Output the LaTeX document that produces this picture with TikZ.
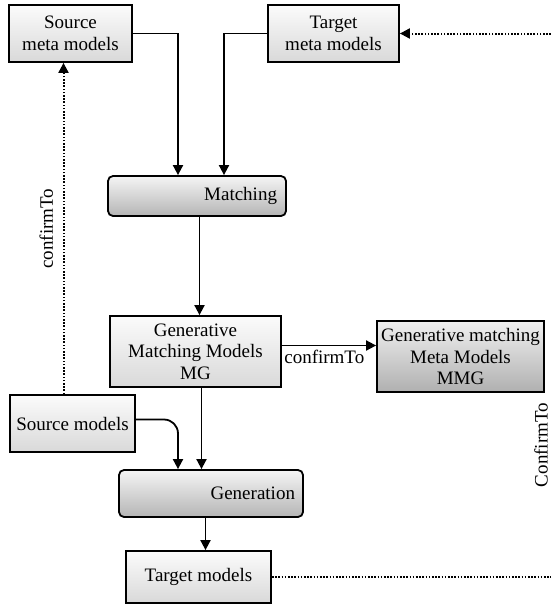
\documentclass[tikz,border=0pt]{standalone}
\usepackage{fontspec}
\setmainfont{Liberation Serif}
\usetikzlibrary{arrows.meta}

\begin{document}
\begin{tikzpicture}[x=1pt,y=-1pt,
  font=\fontsize{19}{21.5}\selectfont,
  lightbox/.style={rectangle,draw,line width=1.8pt,top color=gray!3,bottom color=gray!30,align=center,inner sep=0pt},
  darkbox/.style={rectangle,draw,line width=1.8pt,top color=gray!12,bottom color=gray!62,align=center,inner sep=0pt},
  stepbox/.style={rectangle,rounded corners=5pt,draw,line width=1.8pt,top color=gray!8,bottom color=gray!58,align=right,inner sep=0pt},
  arr/.style={line width=1.8pt,-{Triangle[length=10pt,width=10pt]}},
  dots/.style={line width=2pt,dash pattern=on 1.6pt off 1.6pt}]
\useasboundingbox (0,0) rectangle (551,605);
%\draw[help lines] (0,0) grid[step=50] (551,605);
\path
(70.5,33.5) node(srcmeta) [lightbox,minimum width=123,minimum height=57] {Source\\meta models}
(333.5,33.5) node(tgtmeta) [lightbox,minimum width=131,minimum height=57] {Target\\meta models}
(197,196) node(match) [stepbox,minimum width=178,minimum height=40,text width=160] {Matching}
(195.5,351.5) node(mg) [lightbox,minimum width=171,minimum height=71] {Generative\\Matching Models\\MG}
(460.5,356.5) node(mmg) [darkbox,minimum width=167,minimum height=71] {Generative matching\\Meta Models\\MMG}
(72.5,423.5) node(srcmod) [lightbox,minimum width=125,minimum height=57] {Source models}
(211,493.5) node(gen) [stepbox,minimum width=184,minimum height=47,text width=168] {Generation}
(198.5,577) node(tgtmod) [lightbox,minimum width=145,minimum height=52] {Target models};
\coordinate (topright) at (551,33.5);
\coordinate (botright) at (551,577);
\draw[arr] (srcmeta.east) -| ([xshift=-19]match.north);
\draw[arr] (tgtmeta.west) -| ([xshift=27]match.north);
\draw[arr] ([xshift=4]mg.north |- match.south) -- ([xshift=4]mg.north);
\draw[arr] ([yshift=6]mg.east) -- ([yshift=6]mg.east -| mmg.west)
  node[below,pos=0.45] {confirmTo};
\draw[arr] ([xshift=6]mg.south) -- ([xshift=6]mg.south |- gen.north);
\draw[arr,rounded corners=14pt] ([yshift=4]srcmod.east) -| ([xshift=-33]gen.north);
\draw[arr] ([xshift=7]tgtmod.north |- gen.south) -- ([xshift=7]tgtmod.north);
\draw[dots,-{Triangle[length=10pt,width=10pt]}] ([xshift=-9]srcmod.north) -- ([xshift=-9]srcmod.north |- srcmeta.south)
  node[midway,left=6pt,rotate=90,anchor=south] {confirmTo};
\draw[dots,-{Triangle[length=10pt,width=10pt]}] (topright) -- (tgtmeta.east);
\draw[dots] (tgtmod.east) -- (botright);
\node(conf) [rotate=90] at (541,445) {ConfirmTo};
\end{tikzpicture}
\end{document}
